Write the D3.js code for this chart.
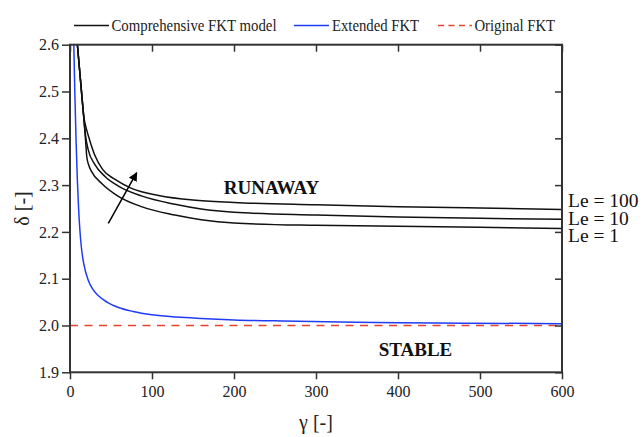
<!DOCTYPE html>
<html><head><meta charset="utf-8">
<script src="https://cdn.jsdelivr.net/npm/d3@7"></script>
<style>
body{margin:0;background:#fff;}
svg{display:block;}
svg text{font-family:"Liberation Serif","Times New Roman",serif;}
</style></head>
<body>
<svg id="c" width="643" height="437"></svg>
<script>
// ---- data ----
const xTicks = [0,100,200,300,400,500,600];
const yTicks = [1.9,2.0,2.1,2.2,2.3,2.4,2.5,2.6];
const le100Gamma = [9,13,17,20,24,30,40,55,75,108,150,200,300,400,500,600];
const le100Delta = [2.60,2.52,2.445,2.42,2.396,2.365,2.333,2.312,2.293,2.278,2.268,2.263,2.258,2.254,2.251,2.248];
const le10Gamma = [9,13,17,19,22,30,43,59,87,128,160,200,300,400,500,600];
const le10Delta = [2.60,2.52,2.44,2.405,2.377,2.345,2.318,2.298,2.277,2.259,2.249,2.242,2.236,2.232,2.229,2.227];
const le1Gamma = [9,13,17,19,20.5,23,26,39,59,87,128,160,200,300,400,500,600];
const le1Delta = [2.60,2.52,2.44,2.395,2.36,2.342,2.330,2.303,2.276,2.254,2.236,2.226,2.219,2.214,2.212,2.210,2.207];
const extGamma = [4.5,6,7.5,9,10.5,12,14,17,22,28,35,45,60,77,100,130,160,200,260,330,400,480,600];
const extDelta = [2.61,2.49,2.39,2.31,2.25,2.205,2.165,2.13,2.098,2.077,2.063,2.050,2.038,2.030,2.023,2.018,2.015,2.012,2.0095,2.0075,2.006,2.005,2.004];
const origGamma = [0,600];
const origDelta = [2.0,2.0];
const leLabels = ["Le = 100","Le = 10","Le = 1"];
const legendLabels = ["Comprehensive FKT model","Extended FKT","Original FKT"];

const FONT = "Liberation Serif";
const svg = d3.select("#c");
const L=70,R=562,T=44.7,B=372.3;
const x = d3.scaleLinear().domain([0,600]).range([L,R]);
const y = d3.scaleLinear().domain([1.9,2.6]).range([B,T]);

const axisColor="#333";
const defs = svg.append("defs");
defs.append("clipPath").attr("id","clip").append("rect")
  .attr("x",L).attr("y",T).attr("width",R-L).attr("height",B-T);
defs.append("marker").attr("id","arr").attr("viewBox","0 0 10 10").attr("refX",9).attr("refY",5)
  .attr("markerWidth",9).attr("markerHeight",9).attr("markerUnits","userSpaceOnUse").attr("orient","auto")
  .append("path").attr("d","M0,0L10,5L0,10z").attr("fill","#000");

const line = d3.line().x(d=>x(d[0])).y(d=>y(d[1])).curve(d3.curveMonotoneX);
const g = svg.append("g").attr("clip-path","url(#clip)");

g.append("path").datum(d3.zip(origGamma,origDelta)).attr("d",line)
  .attr("fill","none").attr("stroke","#e8412c").attr("stroke-width",1.5).attr("stroke-dasharray","8,6.5");
g.append("path").datum(d3.zip(extGamma,extDelta)).attr("d",line)
  .attr("fill","none").attr("stroke","#1f3cf5").attr("stroke-width",1.5);
[[le1Gamma,le1Delta],[le10Gamma,le10Delta],[le100Gamma,le100Delta]].forEach(s=>{
  g.append("path").datum(d3.zip(s[0],s[1])).attr("d",line)
    .attr("fill","none").attr("stroke","#111").attr("stroke-width",1.5);
});

// axes
const fmt = d3.format(".1f");
const ax = (sel)=>{
  sel.attr("font-family",FONT);
  sel.select(".domain").remove();
  sel.selectAll("line").attr("stroke",axisColor).attr("stroke-width",1.5);
  sel.selectAll("text").attr("font-size",16).attr("font-family",FONT).attr("fill","#222");
};
svg.append("g").attr("transform",`translate(0,${B})`)
  .call(d3.axisBottom(x).tickValues(xTicks).tickSize(7).tickPadding(6)).call(ax);
svg.append("g").attr("transform",`translate(${L},0)`)
  .call(d3.axisLeft(y).tickValues(yTicks).tickFormat(fmt).tickSize(8).tickPadding(3)).call(ax);
svg.append("g").attr("transform",`translate(0,${T})`)
  .call(d3.axisBottom(x).tickValues(xTicks).tickSize(7).tickFormat("")).call(ax);
svg.append("g").attr("transform",`translate(${R},0)`)
  .call(d3.axisLeft(y).tickValues(yTicks).tickSize(7).tickFormat("")).call(ax);
svg.append("rect").attr("x",L).attr("y",T).attr("width",R-L).attr("height",B-T)
  .attr("fill","none").attr("stroke",axisColor).attr("stroke-width",2);

// axis titles
svg.append("text").attr("transform",`translate(29,${(T+B)/2}) rotate(-90)`)
  .attr("text-anchor","middle").attr("font-size",20).attr("font-family",FONT).attr("fill","#222").text("δ [-]");
svg.append("text").attr("x",(L+R)/2).attr("y",429)
  .attr("text-anchor","middle").attr("font-size",20).attr("font-family",FONT).attr("fill","#222").text("γ [-]");

// annotations
svg.append("text").attr("x",271.5).attr("y",194).attr("text-anchor","middle").attr("font-family",FONT)
  .attr("font-size",19).attr("font-weight","bold").attr("fill","#111").text("RUNAWAY");
svg.append("text").attr("x",415.5).attr("y",356).attr("text-anchor","middle").attr("font-family",FONT)
  .attr("font-size",19).attr("font-weight","bold").attr("fill","#111").text("STABLE");
const leY=[206.5,224.5,242];
leLabels.forEach((t,i)=>{
  svg.append("text").attr("x",568).attr("y",leY[i]).attr("font-size",19.5).attr("font-family",FONT)
    .attr("fill","#111").text(t);
});
svg.append("line").attr("x1",108.3).attr("y1",223.3).attr("x2",136.7).attr("y2",172.7)
  .attr("stroke","#000").attr("stroke-width",1.5).attr("marker-end","url(#arr)");

// legend
const lg=[{x1:74,x2:109,tx:111.5,w:165,c:"#111",d:null},
          {x1:294,x2:329,tx:332,w:87,c:"#1f3cf5",d:null},
          {x1:438,x2:472,tx:474.5,w:80.5,c:"#e8412c",d:"6,4.5"}];
lg.forEach((o,i)=>{
  svg.append("line").attr("x1",o.x1).attr("x2",o.x2).attr("y1",25.5).attr("y2",25.5)
    .attr("stroke",o.c).attr("stroke-width",1.6).attr("stroke-dasharray",o.d);
  svg.append("text").attr("x",o.tx).attr("y",30.5).attr("font-size",16).attr("font-family",FONT).attr("fill","#222")
    .attr("textLength",o.w).attr("lengthAdjust","spacingAndGlyphs").text(legendLabels[i]);
});
</script>
</body></html>
